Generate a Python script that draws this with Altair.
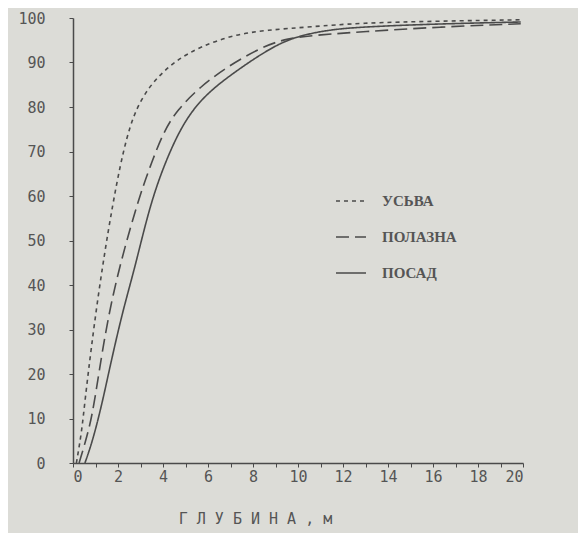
import altair as alt
import pandas as pd

# Depth (m) and cumulative percentage for each reservoir
depth_usva = [0.15, 0.40, 0.53, 1.07, 1.78, 2.40, 2.98, 3.73, 4.62, 5.64, 7.11, 8.62, 10.53, 12.76, 16.3, 19.9]
pct_usva = [0.0, 7.4, 14.2, 36.6, 59.1, 74.2, 81.6, 86.7, 90.6, 93.5, 96.2, 97.3, 98.0, 98.9, 99.3, 99.6]

depth_polazna = [0.27, 0.71, 0.98, 1.64, 2.89, 3.42, 4.00, 4.62, 5.64, 6.84, 8.31, 9.51, 10.98, 12.76, 16.3, 19.9]
pct_polazna = [0.0, 7.4, 14.2, 36.6, 59.1, 66.5, 74.2, 79.3, 84.5, 89.0, 93.3, 95.5, 96.2, 96.9, 98.0, 98.7]

depth_posad = [0.53, 0.89, 1.33, 1.64, 2.22, 2.76, 3.47, 4.31, 5.07, 5.96, 7.11, 8.62, 9.78, 11.29, 12.76, 16.3, 19.9]
pct_posad = [0.0, 5.2, 14.2, 21.6, 34.4, 44.0, 59.1, 70.3, 77.8, 83.1, 87.6, 92.8, 95.7, 97.3, 98.0, 98.7, 99.1]

series_names = ["УСЬВА", "ПОЛАЗНА", "ПОСАД"]
x_ticks = list(range(0, 21))
y_ticks = list(range(0, 101, 10))

rows = []
for name, xs, ys in [
    (series_names[0], depth_usva, pct_usva),
    (series_names[1], depth_polazna, pct_polazna),
    (series_names[2], depth_posad, pct_posad),
]:
    for i, (x, y) in enumerate(zip(xs, ys)):
        rows.append({"series": name, "depth": x, "pct": y, "order": i})
df = pd.DataFrame(rows)

ink = "#4a4a4a"
font = "DejaVu Sans Mono"

chart = (
    alt.Chart(df)
    .mark_line(interpolate="basis", color=ink, strokeWidth=1.6)
    .encode(
        x=alt.X(
            "depth:Q",
            scale=alt.Scale(domain=[0, 20], nice=False),
            axis=alt.Axis(
                values=x_ticks,
                labelExpr="datum.value % 2 == 0 ? datum.label : ''",
                title="Г Л У Б И Н А ,  м",
                titleX=182,
                titleY=55,
                titleBaseline="middle",
                tickSize=4,
                labelPadding=2,
            ),
        ),
        y=alt.Y(
            "pct:Q",
            scale=alt.Scale(domain=[0, 100], nice=False),
            axis=alt.Axis(values=y_ticks, title=None, tickSize=4, labelPadding=24),
        ),
        strokeDash=alt.StrokeDash(
            "series:N",
            sort=series_names,
            scale=alt.Scale(domain=series_names, range=[[4, 4], [13, 6], [1, 0]]),
            legend=alt.Legend(
                title=None,
                orient="none",
                legendX=262,
                legendY=167,
                symbolType="stroke",
                symbolSize=900,
                symbolStrokeWidth=1.6,
                symbolStrokeColor=ink,
                labelOffset=15,
                rowPadding=12,
            ),
        ),
        order="order:Q",
    )
    .properties(
        width=450,
        height=445,
        background="#dcdcd7",
        padding={"left": 65, "top": 10, "right": 55, "bottom": 70},
        autosize=alt.AutoSizeParams(type="none"),
    )
    .configure_view(stroke=None)
    .configure_axis(
        grid=False,
        domainColor=ink,
        domainWidth=1.5,
        tickColor=ink,
        labelColor="#555",
        labelFont=font,
        labelFontSize=15,
        titleColor="#555",
        titleFont=font,
        titleFontSize=15,
        titleFontWeight="normal",
    )
    .configure_legend(
        labelFont="Liberation Serif",
        labelFontSize=15,
        labelFontWeight="bold",
        labelColor="#555",
    )
)

chart.save("out.html", embed_options={"renderer": "svg", "actions": False})
